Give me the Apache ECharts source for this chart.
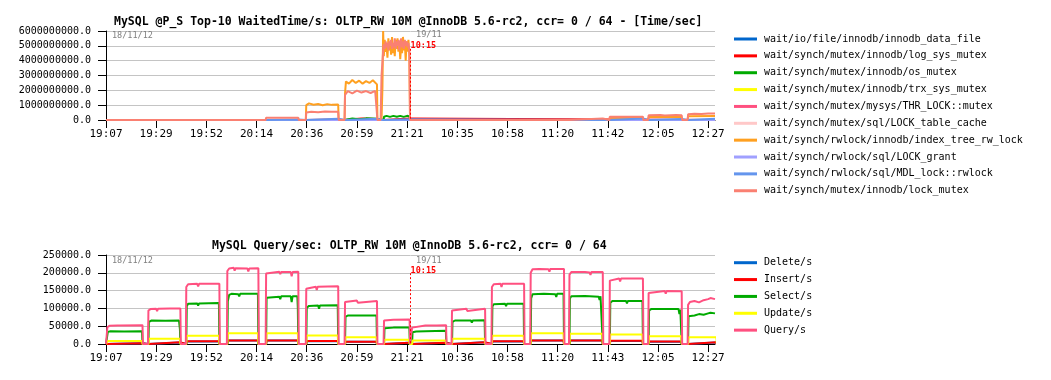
<!DOCTYPE html>
<html><head><meta charset="utf-8">
<script src="https://cdn.jsdelivr.net/npm/echarts@6/dist/echarts.min.js"></script>
<style>html,body{margin:0;padding:0;background:#fff}#c{width:1051px;height:380px}</style>
</head><body><div id="c"></div>
<script>
const FONT = 'DejaVu Sans Mono';

// ---- x axis (sample index) and tick labels ----
const xMax = 267;
const dayBreakX = 133.3;
const tickPositions = [0, 22, 44, 66, 88, 110, 132, 154, 176, 198, 220, 242, 264];
const topTickLabels = ['19:07','19:29','19:52','20:14','20:36','20:59','21:21','10:35','10:58','11:20','11:42','12:05','12:27'];
const bottomTickLabels = ['19:07','19:29','19:52','20:14','20:36','20:59','21:21','10:36','10:58','11:20','11:43','12:05','12:27'];

// ---- top chart: wait events (time/sec) ----
const topNames = [
  'wait/io/file/innodb/innodb_data_file',
  'wait/synch/mutex/innodb/log_sys_mutex',
  'wait/synch/mutex/innodb/os_mutex',
  'wait/synch/mutex/innodb/trx_sys_mutex',
  'wait/synch/mutex/mysys/THR_LOCK::mutex',
  'wait/synch/mutex/sql/LOCK_table_cache',
  'wait/synch/rwlock/innodb/index_tree_rw_lock',
  'wait/synch/rwlock/sql/LOCK_grant',
  'wait/synch/rwlock/sql/MDL_lock::rwlock',
  'wait/synch/mutex/innodb/lock_mutex'
];
const topColors = ['#0066cc','#ff0000','#00aa00','#ffff00','#ff5080','#ffc8c8','#ffa020','#a0a0ff','#6495ed','#fa8072'];

const innodbDataFile = [[0,0],[267,0]];
const logSysMutex = [[0,0],[87.6,0],[87.8,0.03e9],[101.8,0.03e9],[102,0],[104.6,0],[104.8,0.08e9],[108,0.05e9],[112,0.1e9],[118.8,0.07e9],[119,0],[121.7,0],[121.9,0.1e9],[133.1,0.1e9],[133.3,0],[267,0]];
const osMutex = [[0,0],[104.6,0],[104.8,0.06e9],[108,0.1e9],[111,0.05e9],[114,0.11e9],[118.8,0.08e9],[119,0],[121.7,0],[121.9,0.22e9],[123,0.28e9],[124.5,0.21e9],[126,0.28e9],[127.5,0.22e9],[129,0.28e9],[130.5,0.21e9],[132,0.28e9],[133.1,0.24e9],[133.3,0],[267,0]];
const trxSysMutex = [[0,0],[267,0]];
const thrLockMutex = [[0,0],[267,0]];
const lockTableCache = [[0,0],[267,0]];
const indexTreeRwLock = [
  [0,0],[70.0,0],[70.2,0.1e9],[70.6,0],
  [87.6,0],[87.8,1.0e9],[89,1.12e9],[91,1.03e9],[93,1.08e9],[95,1.0e9],[97,1.07e9],[99,1.02e9],[101.8,1.05e9],[102,0],
  [104.6,0],[104.8,1.8e9],[105.2,2.6e9],[106.5,2.45e9],[108,2.7e9],[109.5,2.5e9],[111,2.65e9],[112.5,2.45e9],[114,2.62e9],[115.5,2.5e9],[117,2.68e9],[118.8,2.4e9],[119,0],
  [120.8,0],[121.2,2.2e9],[121.5,6.0e9],[121.8,4.3e9],[122.2,5.4e9],[122.6,4.6e9],[123.0,5.0e9],[123.4,4.2e9],[123.8,5.5e9],[124.2,4.7e9],[124.6,5.2e9],[125.0,4.4e9],[125.4,5.6e9],[125.8,4.5e9],[126.2,5.1e9],[126.6,4.3e9],[127.0,5.4e9],[127.4,4.8e9],[127.8,5.5e9],[128.2,4.6e9],[128.6,5.3e9],[129.0,4.1e9],[129.4,5.0e9],[129.8,4.5e9],[130.2,5.6e9],[130.6,4.7e9],[131.0,5.2e9],[131.4,4.0e9],[131.8,5.3e9],[132.2,4.6e9],[132.6,5.4e9],[133.0,4.3e9],[133.3,0],
  [220.7,0],[220.9,0.15e9],[235.4,0.15e9],[235.6,0],
  [237.7,0],[237.9,0.2e9],[252.4,0.2e9],[252.6,0],
  [255,0],[255.2,0.25e9],[267,0.27e9]
];
const lockGrant = [[0,0],[267,0]];
const mdlLockRwlock = [[0,0],[70.0,0],[70.2,0.04e9],[84.3,0.04e9],[84.5,0],[87.6,0],[87.8,0.09e9],[101.8,0.09e9],[102,0],[104.6,0],[104.8,0.08e9],[118.8,0.08e9],[119,0],[121.7,0],[121.9,0.05e9],[133.1,0.05e9],[133.3,0],[220.7,0],[220.9,0.1e9],[235.4,0.1e9],[235.6,0],[237.7,0],[237.9,0.06e9],[252.4,0.06e9],[252.6,0],[255,0],[255.2,0.08e9],[267,0.08e9]];
const lockMutex = [
  [0,0],[70.0,0],[70.2,0.15e9],[84.3,0.16e9],[84.5,0],
  [87.6,0],[87.8,0.5e9],[90,0.56e9],[93,0.52e9],[96,0.57e9],[99,0.55e9],[101.8,0.56e9],[102,0],
  [104.6,0],[104.8,1.7e9],[106,1.95e9],[108,1.8e9],[110,1.98e9],[112,1.85e9],[114,1.95e9],[116,1.82e9],[118,1.97e9],[118.8,1.9e9],[119,0],
  [120.4,0],[120.8,3.0e9],[121.4,3.1e9],[121.7,5.1e9],[122.2,4.8e9],[122.6,5.3e9],[123.0,4.9e9],[123.4,5.2e9],[123.8,4.7e9],[124.2,5.3e9],[124.6,5.0e9],[125.0,5.4e9],[125.4,4.8e9],[125.8,5.2e9],[126.2,4.9e9],[126.6,5.5e9],[127.0,4.8e9],[127.4,5.3e9],[127.8,5.0e9],[128.2,5.4e9],[128.6,4.7e9],[129.0,5.2e9],[129.4,5.5e9],[129.8,4.9e9],[130.2,5.3e9],[130.6,4.8e9],[131.0,5.4e9],[131.4,5.0e9],[131.8,5.3e9],[132.2,4.9e9],[132.6,5.2e9],[133.0,4.6e9],[133.3,0],
  [203.0,0],[203.2,0.1e9],[217.8,0.1e9],[218,0],
  [220.7,0],[220.9,0.22e9],[235.4,0.22e9],[235.6,0],
  [237.7,0],[237.9,0.32e9],[243,0.34e9],[245,0.3e9],[250,0.33e9],[252.4,0.32e9],[252.6,0],
  [255,0],[255.2,0.38e9],[258,0.42e9],[261,0.4e9],[264,0.44e9],[267,0.43e9]
];
const topData = [innodbDataFile, logSysMutex, osMutex, trxSysMutex, thrLockMutex, lockTableCache, indexTreeRwLock, lockGrant, mdlLockRwlock, lockMutex];

// ---- bottom chart: queries per second ----
const bottomNames = ['Delete/s','Insert/s','Select/s','Update/s','Query/s'];
const bottomColors = ['#0066cc','#ff0000','#00aa00','#ffff00','#ff5080'];
const plateauStart = [0.4,18.4,35.0,53.0,70.0,87.6,104.6,121.7,134.0,151.5,169.0,186.0,203.0,220.7,237.7,255.0];
const plateauEnd   = [16.2,32.8,49.9,67.0,84.5,102.0,119.0,133.3,149.3,166.4,183.5,201.0,218.0,235.6,252.6,268];
const deleteLevels = [1800,4300,7000,9500,9500,8000,6000,3400,3400,4600,7000,9500,9500,8500,6500,4600];
const insertLevels = [2000,4700,7500,10000,10000,8400,6500,3700,3700,5000,7500,10000,10000,9000,7000,5000];
const updateLevels = [8400,15000,23000,30000,30000,24000,18700,12000,10000,15000,23000,30000,29000,27000,21500,18700];
const selectData = [
  [0,0],[0.6,0],[0.8,34000],[2,36000],[8,35000],[8.4,31000],[8.8,35500],[15.8,36000],[16.0,0],
  [18.6,0],[18.8,62000],[20,66000],[26,65000],[26.4,60000],[26.8,66000],[32,66000],[32.4,42000],[32.6,0],
  [35.2,0],[35.4,106000],[36,113000],[40,114000],[40.4,108000],[40.8,114000],[49.5,115000],[49.7,0],
  [53.2,0],[53.4,120000],[54,138000],[55,141000],[58,140000],[58.4,134000],[58.8,141000],[66.6,141000],[66.8,0],
  [70.2,0],[70.4,130000],[71,134000],[76,133000],[76.4,126000],[76.8,134000],[81,134000],[81.4,118000],[81.8,134000],[83.9,134000],[84.1,100000],[84.3,0],
  [87.8,0],[88,102000],[89,107000],[93,108000],[93.4,99000],[93.8,108000],[101.6,109000],[101.8,0],
  [104.8,0],[105,76000],[106,80000],[112,80000],[118.6,80000],[118.8,0],
  [121.9,0],[122.1,44000],[126,46000],[126.4,41000],[126.8,46000],[133,46000],[133.2,0],
  [134.2,0],[134.4,33000],[136,35000],[140,36000],[149,37000],[149.2,0],
  [151.7,0],[151.9,62000],[153,66000],[160,66000],[160.4,60000],[160.8,66000],[166,67000],[166.2,0],
  [169.2,0],[169.4,105000],[170,112000],[175,113000],[175.4,106000],[175.8,113000],[183.1,113000],[183.3,0],
  [186.2,0],[186.4,128000],[187,140000],[192,141000],[197,140000],[197.4,132000],[197.8,141000],[200.6,141000],[200.8,0],
  [203.2,0],[203.4,128000],[204,134000],[210,135000],[216,133000],[216.4,124000],[216.8,134000],[217.6,134000],[217.8,0],
  [220.9,0],[221.1,116000],[222,121000],[228,121000],[228.4,114000],[228.8,121000],[235.2,121000],[235.4,0],
  [237.9,0],[238.1,94000],[239,98000],[246,98000],[251,98000],[251.4,84000],[251.8,97000],[252.2,97000],[252.4,0],
  [255.2,0],[255.4,78000],[256,83000],[258,80000],[260,84000],[262,82000],[264,86000],[265,88000],[267,86000]
];
const queryData = [
  [0,0],[0.4,0],[0.6,47000],[1.5,51000],[5,52000],[5.5,48000],[6,52000],[16,53000],[16.2,0],
  [18.4,0],[18.6,94000],[19.5,98000],[22,99000],[22.4,92000],[22.8,99000],[28,100000],[32.6,100000],[32.8,0],
  [35.0,0],[35.2,160000],[36,168000],[40,169000],[40.4,162000],[40.8,169000],[49.7,169000],[49.9,0],
  [53.0,0],[53.2,205000],[54,212000],[56,214000],[56.4,206000],[56.8,213000],[62,212000],[62.4,204000],[62.8,212000],[66.8,213000],[67.0,0],
  [70.0,0],[70.2,198000],[71,202000],[76,203000],[76.4,196000],[76.8,202000],[81,202000],[81.4,190000],[81.8,202000],[84.3,203000],[84.5,0],
  [87.6,0],[87.8,155000],[88.6,160000],[92,161000],[92.4,152000],[92.8,161000],[101.8,162000],[102,0],
  [104.6,0],[104.8,118000],[105.6,121000],[110,122000],[110.4,116000],[110.8,121000],[118.8,121000],[119,0],
  [121.7,0],[121.9,66000],[122.6,69000],[126,68000],[126.4,64000],[126.8,69000],[133.1,69000],[133.3,0],
  [134.0,0],[134.2,46000],[135,50000],[140,52000],[145,52000],[149.1,53000],[149.3,0],
  [151.5,0],[151.7,94000],[152.5,98000],[158,99000],[158.4,93000],[158.8,98000],[166.2,99000],[166.4,0],
  [169.0,0],[169.2,160000],[170,168000],[173,169000],[173.4,160000],[173.8,169000],[183.3,169000],[183.5,0],
  [186.0,0],[186.2,200000],[187,210000],[190,211000],[194,210000],[194.4,203000],[194.8,211000],[200.8,211000],[201,0],
  [203.0,0],[203.2,195000],[204,202000],[210,202000],[212,201000],[212.4,194000],[212.8,202000],[217.8,202000],[218,0],
  [220.7,0],[220.9,178000],[221.6,183000],[225,184000],[225.4,176000],[225.8,184000],[235.4,184000],[235.6,0],
  [237.7,0],[237.9,143000],[238.6,148000],[245,149000],[245.4,141000],[245.8,149000],[252.4,148000],[252.6,0],
  [255,0],[255.2,110000],[256,118000],[258,121000],[260,117000],[262,123000],[264,126000],[265,129000],[267,126000]
];

const topTitle = 'MySQL @P_S Top-10 WaitedTime/s: OLTP_RW 10M @InnoDB 5.6-rc2, ccr= 0 / 64 - [Time/sec]';
const bottomTitle = 'MySQL Query/sec: OLTP_RW 10M @InnoDB 5.6-rc2, ccr= 0 / 64';

function steps(levels) {
  const out = [[0, 0]];
  levels.forEach((v, i) => {
    out.push([plateauStart[i] + 0.2, 0], [plateauStart[i] + 0.4, v], [plateauEnd[i] - 0.4, v], [plateauEnd[i] - 0.2, 0]);
  });
  return out;
}
const bottomData = [steps(deleteLevels), steps(insertLevels), selectData, steps(updateLevels), queryData];

function xAxisCfg(gridIndex, labels) {
  return {
    type: 'value', gridIndex, min: 0, max: xMax,
    axisLine: { show: true, onZero: false, lineStyle: { color: '#000', width: 1 } },
    axisTick: { show: true, inside: false, length: 8, customValues: tickPositions, lineStyle: { color: '#000' } },
    axisLabel: {
      customValues: tickPositions,
      formatter: v => { const i = tickPositions.indexOf(Math.round(v)); return i >= 0 ? labels[i] : ''; },
      margin: 9, fontFamily: FONT, fontSize: 11, color: '#000'
    },
    splitLine: { show: false }
  };
}
function yAxisCfg(gridIndex, max, interval) {
  return {
    type: 'value', gridIndex, min: 0, max, interval,
    axisLine: { show: true, lineStyle: { color: '#000', width: 1 } },
    axisTick: { show: true, inside: false, length: 8, lineStyle: { color: '#000' } },
    axisLabel: { formatter: v => v.toFixed(1), margin: 15, fontFamily: FONT, fontSize: 10, color: '#000' },
    splitLine: { show: true, lineStyle: { color: '#c4c4c4', width: 1 } }
  };
}

const series = [];
topNames.forEach((n, i) => {
  const s = { name: n, type: 'line', xAxisIndex: 0, yAxisIndex: 0, data: topData[i], symbol: 'none',
    lineStyle: { color: topColors[i], width: 2 }, itemStyle: { color: topColors[i] }, animation: false };
  if (i === topNames.length - 1) {
    s.markLine = { silent: true, symbol: ['none', 'none'], animation: false, label: { show: false },
      lineStyle: { color: '#ff0000', type: [2, 2], width: 1 },
      data: [[{ coord: [dayBreakX, 4.8e9] }, { coord: [dayBreakX, 0] }]] };
  }
  series.push(s);
});
bottomNames.forEach((n, i) => {
  const s = { name: n, type: 'line', xAxisIndex: 1, yAxisIndex: 1, data: bottomData[i], symbol: 'none',
    lineStyle: { color: bottomColors[i], width: 2 }, itemStyle: { color: bottomColors[i] }, animation: false };
  if (i === bottomNames.length - 1) {
    s.markLine = { silent: true, symbol: ['none', 'none'], animation: false, label: { show: false },
      lineStyle: { color: '#ff0000', type: [2, 2], width: 1 },
      data: [[{ coord: [dayBreakX, 199000] }, { coord: [dayBreakX, 0] }]] };
  }
  series.push(s);
});

const legendBase = {
  orient: 'vertical', left: 734, icon: 'rect', itemWidth: 23, itemHeight: 3, itemGap: 2.86,
  selectedMode: false, padding: 0,
  textStyle: { fontFamily: FONT, fontSize: 10, color: '#000', lineHeight: 14, padding: [0, 0, 0, 2] }
};

const chart = echarts.init(document.getElementById('c'), null, { renderer: 'canvas' });
chart.setOption({
  animation: false,
  backgroundColor: '#fff',
  title: [
    { text: topTitle, left: 114, top: 15, padding: 0,
      textStyle: { fontFamily: FONT, fontSize: 11.5, fontWeight: 'bold', color: '#000', lineHeight: 14 } },
    { text: bottomTitle, left: 212, top: 239, padding: 0,
      textStyle: { fontFamily: FONT, fontSize: 11.5, fontWeight: 'bold', color: '#000', lineHeight: 14 } }
  ],
  legend: [
    Object.assign({}, legendBase, { top: 32, data: topNames }),
    Object.assign({}, legendBase, { top: 255.7, data: bottomNames })
  ],
  grid: [
    { left: 106, top: 31, width: 609, height: 89, outerBoundsMode: 'none', containLabel: false },
    { left: 106, top: 255, width: 609, height: 89, outerBoundsMode: 'none', containLabel: false }
  ],
  xAxis: [xAxisCfg(0, topTickLabels), xAxisCfg(1, bottomTickLabels)],
  yAxis: [yAxisCfg(0, 6e9, 1e9), yAxisCfg(1, 250000, 50000)],
  series
});

// annotations positioned through the axes' own scales
const t0 = chart.convertToPixel({ gridIndex: 0 }, [0, 6e9]);
const tb = chart.convertToPixel({ gridIndex: 0 }, [dayBreakX, 6e9]);
const b0 = chart.convertToPixel({ gridIndex: 1 }, [0, 250000]);
const bb = chart.convertToPixel({ gridIndex: 1 }, [dayBreakX, 250000]);
function txt(x, y, text, color, bold) {
  return { type: 'text', x, y, silent: true, z: 100,
    style: { text, fill: color, font: (bold ? 'bold ' : '') + '8.5px "DejaVu Sans Mono"', verticalAlign: 'middle', align: 'left' } };
}
chart.setOption({
  graphic: [
    txt(t0[0] + 6, t0[1] + 4.5, '18/11/12', '#808080'),
    txt(tb[0] + 6, tb[1] + 4, '19/11', '#808080'),
    txt(tb[0] + 0.5, tb[1] + 15, '10:15', '#ff0000', true),
    txt(b0[0] + 6, b0[1] + 5.5, '18/11/12', '#808080'),
    txt(bb[0] + 6, bb[1] + 5.5, '19/11', '#808080'),
    txt(bb[0] + 0.5, bb[1] + 16, '10:15', '#ff0000', true)
  ]
});
</script>
</body></html>
